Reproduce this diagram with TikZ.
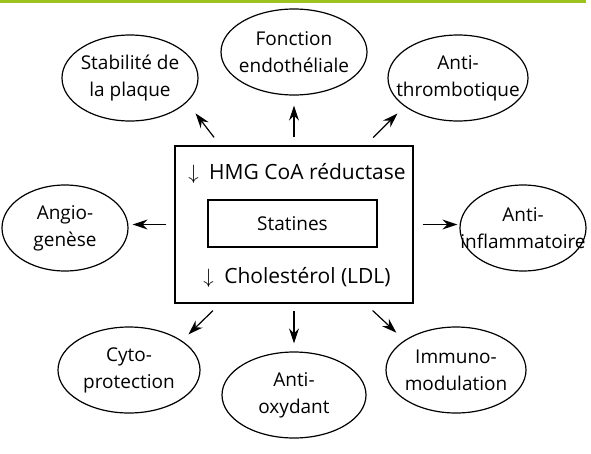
\documentclass[tikz,border=0pt]{standalone}
\usepackage{fontspec}
\setmainfont{Open Sans}
\usetikzlibrary{shapes.geometric}
\usetikzlibrary{arrows.meta}
\definecolor{vert}{RGB}{157,195,30}
\tikzset{
  ell/.style={draw, ellipse, line width=1.2pt, minimum height=86pt, inner sep=0pt},
  lbl/.style={align=center, font=\fontsize{19}{27}\selectfont},
  txt/.style={font=\fontsize{19}{27}\selectfont, inner sep=0pt},
  big/.style={font=\fontsize{21}{27}\selectfont, inner sep=0pt},
  arr/.style={line width=1.2pt, -{Stealth[length=15pt,width=10pt,inset=5pt]}}
}
\newcommand{\effet}[5]{\node[ell, minimum width=#4pt, label={[lbl]center:#5}] (#1) at (#2,#3) {};}

\begin{document}
\begin{tikzpicture}[x=1pt, y=-1pt]
        \useasboundingbox (0,0) rectangle (591,453);
        \fill[vert] (0,0) rectangle (586,3);
        % centre
        \node[draw, line width=1.4pt, minimum width=238pt, minimum height=157pt, inner sep=0pt] (box) at (294,224.5) {};
        \node[draw, line width=1.2pt, minimum width=169pt, minimum height=47pt, txt] (stat) at (292.5,223.5) {Statines};
        \node[big] (hmg) at (297,173) {$\downarrow$\enspace HMG CoA réductase};
        \node[big] (chol) at (297,277) {$\downarrow$\enspace Cholestérol (LDL)};
        % top
        \effet{stab}{130}{78}{136}{Stabilité de\\la plaque}
        \effet{fonc}{294}{52}{146}{Fonction\\endothéliale}
        \effet{thr}{458}{78}{140}{Anti-\\thrombotique}
        % middle
        \effet{angio}{65}{228}{126}{Angio-\\genèse}
        \effet{infl}{523}{228}{126}{Anti-\\inflammatoire}
        % bottom
        \effet{cyto}{129}{370}{142}{Cyto-\\protection}
        \effet{oxy}{294}{395}{144}{Anti-\\oxydant}
        \effet{imm}{456}{370}{140}{Immuno-\\modulation}
        % arrows
        \draw[arr, shorten <=10pt, shorten >=14pt] (box.133) -- (stab.-23);
        \draw[arr, shorten <=8pt, shorten >=10pt] (box.north) -- (fonc.south);
        \draw[arr, shorten <=11pt, shorten >=10pt] (box.48) -- (thr.-152);
        \draw[arr, shorten <=8pt, shorten >=4pt] (box.west) -- (box.west -| angio.east);
        \draw[arr, shorten <=9pt, shorten >=2pt] (box.east) -- (box.east -| infl.west);
        \draw[arr, shorten <=10pt, shorten >=9pt] (box.-133) -- (cyto.29);
        \draw[arr, shorten <=7pt, shorten >=8pt] (box.south) -- (oxy.north);
        \draw[arr, shorten <=10pt, shorten >=11pt] (box.-48) -- (imm.150);
\end{tikzpicture}
\end{document}
